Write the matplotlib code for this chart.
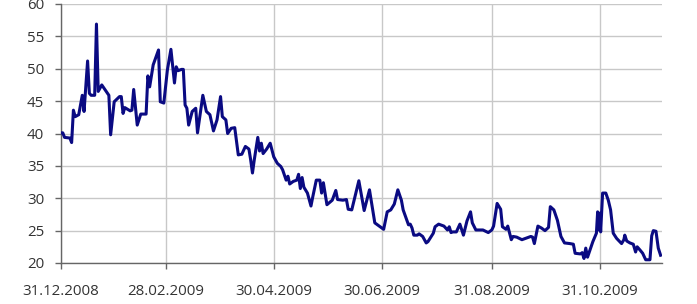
import numpy as np
import matplotlib
matplotlib.use("Agg")
import matplotlib.pyplot as plt
import matplotlib.dates as mdates
from datetime import datetime

# days since 31.12.2008 and index values
days = [0, 1, 2, 5, 6, 7, 8, 10, 12, 13, 15, 16, 17, 19, 20, 21, 23, 25, 27, 28,
        30, 33, 34, 35, 36, 39, 40, 41, 43, 45, 48, 49, 50, 52, 55, 56, 58, 60, 62, 64,
        65, 66, 68, 69, 70, 71, 72, 74, 76, 77, 80, 82, 84, 86, 88, 90, 91, 93, 94, 96,
        98, 100, 102, 104, 106, 107, 108, 109, 111, 112, 113, 114, 116, 118, 120, 122, 124, 125, 127, 128,
        129, 131, 133, 134, 135, 136, 137, 139, 141, 142, 144, 146, 147, 148, 150, 153, 155, 156, 159, 161,
        162, 164, 168, 171, 174, 177, 181, 182, 184, 186, 188, 190, 192, 193, 196, 197, 198, 199, 201, 202,
        204, 206, 207, 210, 211, 213, 216, 218, 219, 220, 221, 223, 225, 227, 229, 231, 232, 234, 236, 238,
        241, 243, 244, 246, 248, 249, 251, 252, 254, 255, 257, 260, 262, 265, 266, 267, 269, 271, 273, 275,
        276, 278, 280, 282, 284, 287, 289, 290, 293, 294, 295, 296, 297, 298, 300, 302, 302.7, 303.3, 303.9, 304.4,
        305.5, 307.3, 308.7, 310.0, 311.5, 313.4, 316.2, 317.5, 318.0, 319.1, 320.9, 322.8, 324.1, 325.0, 326.6, 328.1,
        329.8, 332.2, 333.2, 334.1, 335.6, 336.9, 338.2]
values = [40.1, 40.1, 39.4, 39.3, 38.6, 43.6, 42.6, 42.9, 45.9, 43.4, 51.2, 46.2, 45.9, 45.9, 56.9, 46.5, 47.5, 46.7, 45.9, 39.8,
          44.9, 45.7, 45.7, 43.1, 44.0, 43.5, 43.6, 46.8, 41.3, 43.0, 43.0, 48.9, 47.2, 50.6, 52.9, 44.9, 44.7, 49.8, 53.0, 47.8,
          50.3, 49.7, 49.9, 49.9, 44.4, 43.9, 41.3, 43.4, 43.9, 40.1, 45.9, 43.4, 42.9, 40.4, 42.1, 45.7, 42.6, 42.1, 40.0, 40.8,
          40.9, 36.7, 36.8, 38.0, 37.6, 35.9, 33.9, 35.9, 39.4, 37.3, 38.5, 36.9, 37.6, 38.5, 36.4, 35.4, 34.9, 34.4, 32.8, 33.4,
          32.2, 32.6, 32.8, 33.7, 31.5, 33.2, 31.7, 30.8, 28.8, 30.2, 32.8, 32.8, 30.8, 32.4, 29.0, 29.7, 31.2, 29.8, 29.7, 29.8,
          28.3, 28.2, 32.7, 28.1, 31.3, 26.2, 25.4, 25.2, 27.9, 28.2, 29.1, 31.3, 29.7, 28.2, 25.9, 26.0, 25.4, 24.3, 24.3, 24.5,
          24.1, 23.1, 23.3, 24.6, 25.6, 26.0, 25.7, 25.1, 25.6, 24.7, 24.8, 24.8, 26.0, 24.3, 26.5, 27.9, 26.2, 25.1, 25.1, 25.1,
          24.7, 25.1, 25.7, 29.2, 28.3, 25.6, 25.2, 25.7, 23.6, 24.1, 24.0, 23.6, 23.8, 24.1, 24.0, 23.0, 25.7, 25.4, 25.0, 25.5,
          28.7, 28.2, 26.6, 24.1, 23.1, 23.0, 22.9, 21.5, 21.4, 21.6, 20.7, 22.3, 20.9, 21.7, 23.3, 24.6, 27.9, 25.1, 27.7, 24.8,
          30.8, 30.8, 29.7, 28.2, 24.6, 23.8, 23.0, 23.6, 24.3, 23.4, 23.1, 22.9, 21.7, 22.5, 22.0, 21.5,
          20.5, 20.5, 24.2, 25.0, 24.9, 22.3, 21.2]

start_date = "31.12.2008"
tick_labels = ["31.12.2008", "28.02.2009", "30.04.2009", "30.06.2009", "31.08.2009", "31.10.2009"]
y_ticks = [20, 25, 30, 35, 40, 45, 50, 55, 60]

plt.rcParams['font.family'] = ['Open Sans', 'DejaVu Sans']

base = mdates.date2num(datetime.strptime(start_date, "%d.%m.%Y"))
x = base + np.array(days, dtype=float)
tick_pos = [mdates.date2num(datetime.strptime(t, "%d.%m.%Y")) for t in tick_labels]

fig = plt.figure(figsize=(6.97, 3.04), dpi=100)
ax = fig.add_axes([61/697, 41/304, 601/697, 259/304])

ax.plot(x, values, color="#0a0a82", lw=2.2, solid_joinstyle="round", zorder=3)

ax.set_xlim(base, base + 339)
ax.set_ylim(20, 60)
ax.set_yticks(y_ticks)
ax.set_xticks(tick_pos)
ax.set_xticklabels(tick_labels)

ax.grid(True, color="#c8c8c8", lw=1.0)
ax.set_axisbelow(True)
for s in ["top", "right"]:
    ax.spines[s].set_visible(False)
for s in ["left", "bottom"]:
    ax.spines[s].set_color("#666666")
    ax.spines[s].set_linewidth(1.0)

ax.tick_params(axis="both", direction="out", length=4, width=1, color="#666666",
               labelcolor="#333333", labelsize=10.8)
ax.tick_params(axis="x", pad=11)
ax.tick_params(axis="y", pad=8)

fig.savefig("out.png", dpi=100)
